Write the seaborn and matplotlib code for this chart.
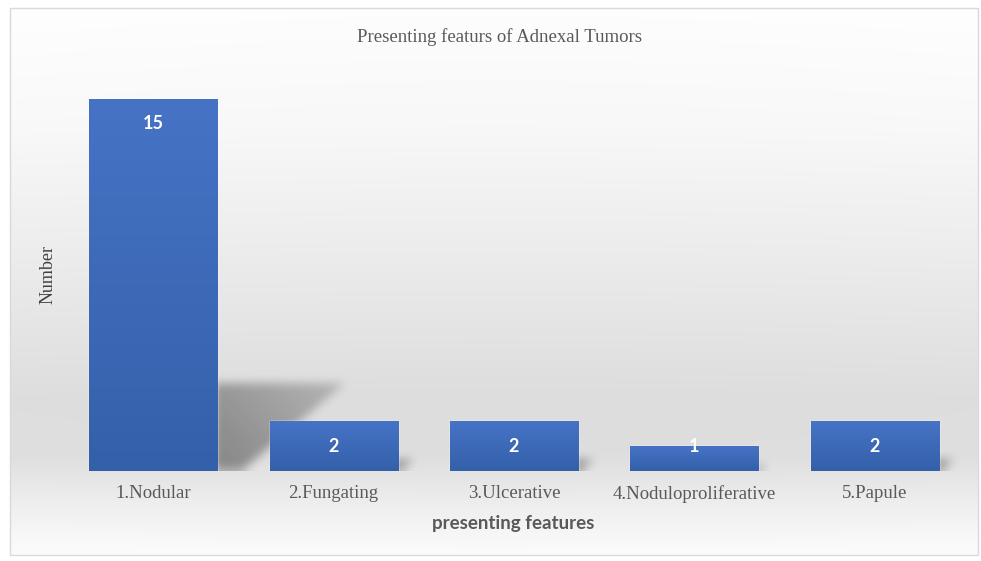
import numpy as np
import matplotlib
matplotlib.use("Agg")
import matplotlib.pyplot as plt
import seaborn as sns
from matplotlib.colors import LinearSegmentedColormap
from matplotlib.patches import Rectangle
from matplotlib.path import Path

# ---- data ----
categories = ["1.Nodular", "2.Fungating", "3.Ulcerative", "4.Noduloproliferative", "5.Papule"]
values = [15, 2, 2, 1, 2]
title = "Presenting featurs of Adnexal Tumors"
xlabel = "presenting features"
ylabel = "Number"

sns.set_theme(style="white")
plt.rcParams["font.family"] = ["Liberation Serif", "DejaVu Serif"]

W, H = 981, 561
fig = plt.figure(figsize=(W / 100, H / 100), dpi=100)
fig.patch.set_facecolor("white")

# ---- background panel with soft gradient ----
bg = fig.add_axes([0, 0, 1, 1], zorder=-10)
bg.set_xlim(0, W)
bg.set_ylim(H, 0)
bg.axis("off")
yy = np.linspace(0, H, 300)[:, None]
xx = np.linspace(0, W, 300)[None, :]
prof = np.interp(yy, [8, 120, 250, 400, 460, 510, 555],
                 [253, 248, 236, 221, 222, 238, 250])
horiz = 1.0 - 0.02 * ((xx - W / 2) / (W / 2)) ** 2
shade = np.clip(prof + (1 - horiz) * 40, 0, 255) / 255.0
img = np.dstack([shade, shade, shade])
bg.imshow(img, extent=[10, 978, 555, 8], aspect="auto", zorder=0)
bg.add_patch(Rectangle((10, 8), 968, 547, fill=False, edgecolor="#d9d9d9", lw=1.0, zorder=1))

# ---- main axes ----
ax = fig.add_axes([63 / W, 90 / H, 902 / W, 397 / H])
ax.set_facecolor("none")
sns.barplot(x=categories, y=values, width=0.71, color="#3d69b8", saturation=1, ax=ax, zorder=2)
XL, YL = (-0.5, 4.5), (0, 16)

bar_cmap = LinearSegmentedColormap.from_list("barg", ["#3460aa", "#4673c5"])
grad = np.linspace(0, 1, 256)[:, None]

# shadow raster on a pixel grid of the axes
nx, ny = 902, 397
gx = np.linspace(XL[0], XL[1], nx)
gy = np.linspace(YL[0], YL[1], ny)
GX, GY = np.meshgrid(gx, gy)
pts = np.column_stack([GX.ravel(), GY.ravel()])
shadow = np.zeros((ny, nx))


def box_blur(a, r, axis):
    c = np.cumsum(np.pad(a, [(r + 1, r) if i == axis else (0, 0) for i in range(2)], mode="edge"), axis=axis)
    if axis == 0:
        return (c[2 * r + 1:, :] - c[:-2 * r - 1, :]) / (2 * r + 1)
    return (c[:, 2 * r + 1:] - c[:, :-2 * r - 1]) / (2 * r + 1)


for p, v in zip(list(ax.patches), values):
    x0, w, h = p.get_x(), p.get_width(), p.get_height()
    im = ax.imshow(grad, extent=[x0, x0 + w, 0, h], origin="lower", aspect="auto",
                   cmap=bar_cmap, zorder=2.1)
    im.set_clip_path(p)
    # perspective shadow, proportional to bar height
    xr = x0 + w
    hs = 0.235 * h
    dx_top = 0.047 * h
    dx_bot = 0.009 * h
    path = Path([(xr - 0.02, 0), (xr - 0.02, hs), (xr + dx_top, hs), (xr + dx_bot, 0)])
    m = path.contains_points(pts).reshape(ny, nx).astype(float)
    dist = np.clip(((GX - xr) / max(dx_top, 1e-6)) * 0.6 + (GY / max(hs, 1e-6)) * 0.4, 0, 1)
    shadow = np.maximum(shadow, m * (1 - 0.55 * dist))
    ax.text(p.get_x() + w / 2, max(v - 1.0, 0.98), str(v), ha="center", va="center",
            color="white", fontsize=13, fontweight="bold", family=["Lato", "DejaVu Sans"],
            zorder=3)

for _ in range(3):
    shadow = box_blur(shadow, 4, 0)
    shadow = box_blur(shadow, 4, 1)
rgba = np.zeros((ny, nx, 4))
rgba[..., 3] = np.clip(shadow * 0.4, 0, 1)
ax.imshow(rgba, extent=[XL[0], XL[1], YL[0], YL[1]], origin="lower", aspect="auto", zorder=1)

ax.set_xlim(*XL)
ax.set_ylim(*YL)
for s in ax.spines.values():
    s.set_visible(False)
ax.set_yticks([])
ax.set_xlabel("")
ax.set_ylabel("")
ax.tick_params(axis="x", length=0, pad=10, labelsize=13.5, labelcolor="#595959")
for t in ax.get_xticklabels():
    t.set_family(["Liberation Serif", "DejaVu Serif"])

# ---- texts ----
fig.text(499 / W, 1 - 37 / H, title, ha="center", va="center", fontsize=13.5,
         color="#595959", family=["Liberation Serif", "DejaVu Serif"])
fig.text(513 / W, 1 - 523 / H, xlabel, ha="center", va="center", fontsize=13.5,
         fontweight="bold", color="#595959", family=["Lato", "DejaVu Sans"])
fig.text(48 / W, 1 - 274 / H, ylabel, ha="center", va="center", rotation=90,
         fontsize=13, color="#404040", family=["Liberation Serif", "DejaVu Serif"])

fig.savefig("out.png", dpi=100, facecolor="white")
